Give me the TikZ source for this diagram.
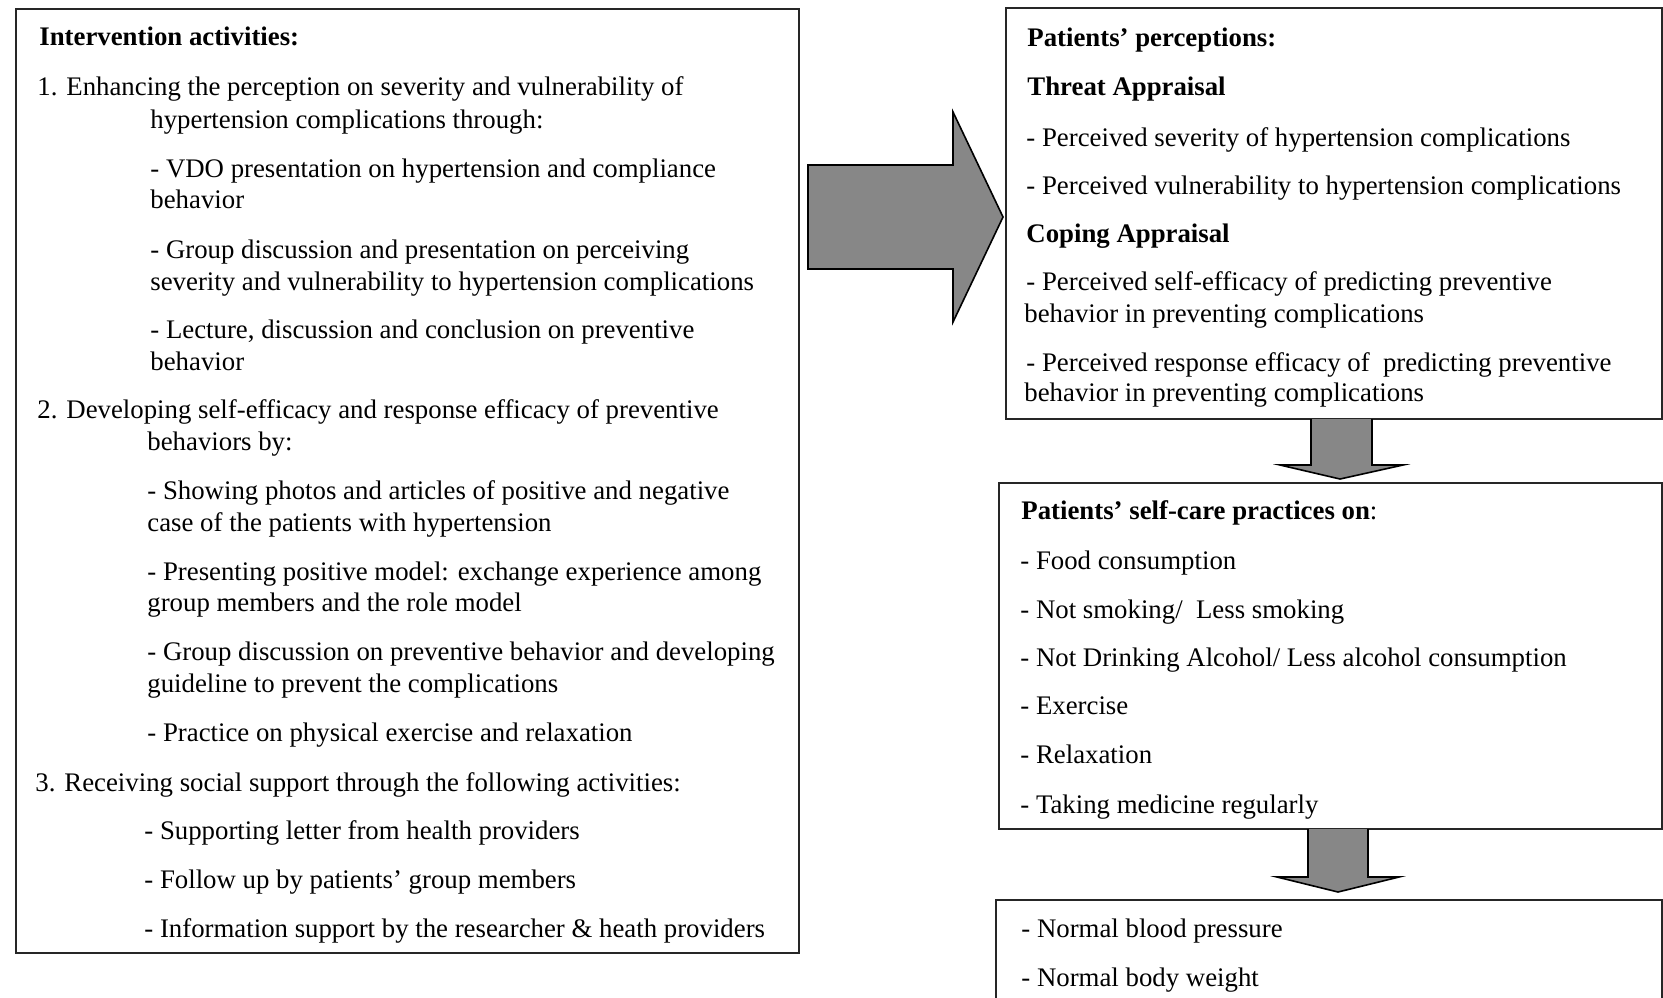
\documentclass[tikz,border=0pt]{standalone}
\usepackage{fontspec}
\setmainfont{Liberation Serif}
\begin{document}
\begin{tikzpicture}[x=0.5pt,y=-0.5pt,
  txt/.style={anchor=base west,inner sep=0pt,font=\fontsize{13.4}{15}\selectfont},
  btxt/.style={txt,font=\fontsize{13.4}{15}\selectfont\bfseries},
  panel/.style={draw=black!85,line width=1pt,anchor=north west,inner sep=0pt},
  blockarrow/.style={draw=black,line width=0.8pt,fill=black!47,line join=miter}]
\clip (0,0) rectangle (1663,997);
\fill[white] (0,0) rectangle (1663,997);
% panels
\node[panel,minimum width=391.5pt,minimum height=472pt] (interv) at (15,8) {};
\node[panel,minimum width=328pt,minimum height=205.5pt] (percep) at (1005,7) {};
\node[panel,minimum width=331.5pt,minimum height=173pt] (selfcare) at (998,482) {};
\node[panel,minimum width=333pt,minimum height=80pt] (outcome) at (995,899) {};
% big arrow
\coordinate (ba1) at (808,165);
\coordinate (ba2) at (953,112);
\coordinate (batip) at (1003,217);
\draw[blockarrow] (ba1) -- (953,165) -- (ba2) -- (batip) -- (953,322) -- (953,269) -- (808,269) -- cycle;
% down arrow 1
\coordinate (da1) at (1311,419);
\coordinate (da1tip) at (1340,479);
\draw[blockarrow] (da1) -- (1311,465) -- (1280,465) -- (da1tip) -- (1403,465) -- (1372,465) -- (1372,419);
% down arrow 2
\coordinate (da2) at (1308,829);
\coordinate (da2tip) at (1338,892);
\draw[blockarrow] (da2) -- (1308,877) -- (1277,877) -- (da2tip) -- (1399,877) -- (1368,877) -- (1368,829);
% left text
\node[btxt] (l0) at (39,45) {Intervention activities:};
\node[txt] (l1) at (37,95) {1. Enhancing the perception on severity and vulnerability of};
\node[txt] (l2) at (150,128) {hypertension complications through:};
\node[txt] (l3) at (150,177) {- VDO presentation on hypertension and compliance};
\node[txt] (l4) at (150,208) {behavior};
\node[txt] (l5) at (150,258) {- Group discussion and presentation on perceiving};
\node[txt] (l6) at (150,290) {severity and vulnerability to hypertension complications};
\node[txt] (l7) at (150,338) {- Lecture, discussion and conclusion on preventive};
\node[txt] (l8) at (150,370) {behavior};
\node[txt] (l9) at (37,418) {2. Developing self-efficacy and response efficacy of preventive};
\node[txt] (l10) at (147,450) {behaviors by:};
\node[txt] (l11) at (147,499) {- Showing photos and articles of positive and negative};
\node[txt] (l12) at (147,531) {case of the patients with hypertension};
\node[txt] (l13) at (147,580) {- Presenting positive model: exchange experience among};
\node[txt] (l14) at (147,611) {group members and the role model};
\node[txt] (l15) at (147,660) {- Group discussion on preventive behavior and developing};
\node[txt] (l16) at (147,692) {guideline to prevent the complications};
\node[txt] (l17) at (147,741) {- Practice on physical exercise and relaxation};
\node[txt] (l18) at (35,791) {3. Receiving social support through the following activities:};
\node[txt] (l19) at (144,839) {- Supporting letter from health providers};
\node[txt] (l20) at (144,888) {- Follow up by patients’ group members};
\node[txt] (l21) at (144,937) {- Information support by the researcher \& heath providers};
% right top text
\node[btxt] (r0) at (1027,46) {Patients’ perceptions:};
\node[btxt] (r1) at (1027,95) {Threat Appraisal};
\node[txt] (r2) at (1026,146) {- Perceived severity of hypertension complications};
\node[txt] (r3) at (1026,194) {- Perceived vulnerability to hypertension complications};
\node[btxt] (r4) at (1026,242) {Coping Appraisal};
\node[txt] (r5) at (1026,290) {- Perceived self-efficacy of predicting preventive};
\node[txt] (r6) at (1024,322) {behavior in preventing complications};
\node[txt] (r7) at (1026,371) {- Perceived response efficacy of \ predicting preventive};
\node[txt] (r8) at (1024,401) {behavior in preventing complications};
% self-care text
\node[txt] (s0) at (1021,519) {\textbf{Patients’ self-care practices on}:};
\node[txt] (s1) at (1020,569) {- Food consumption};
\node[txt] (s2) at (1020,618) {- Not smoking/ \ Less smoking};
\node[txt] (s3) at (1020,666) {- Not Drinking Alcohol/ Less alcohol consumption};
\node[txt] (s4) at (1020,714) {- Exercise};
\node[txt] (s5) at (1020,763) {- Relaxation};
\node[txt] (s6) at (1020,813) {- Taking medicine regularly};
% outcome text
\node[txt] (o1) at (1021,937) {- Normal blood pressure};
\node[txt] (o2) at (1021,986) {- Normal body weight};
\end{tikzpicture}
\end{document}
